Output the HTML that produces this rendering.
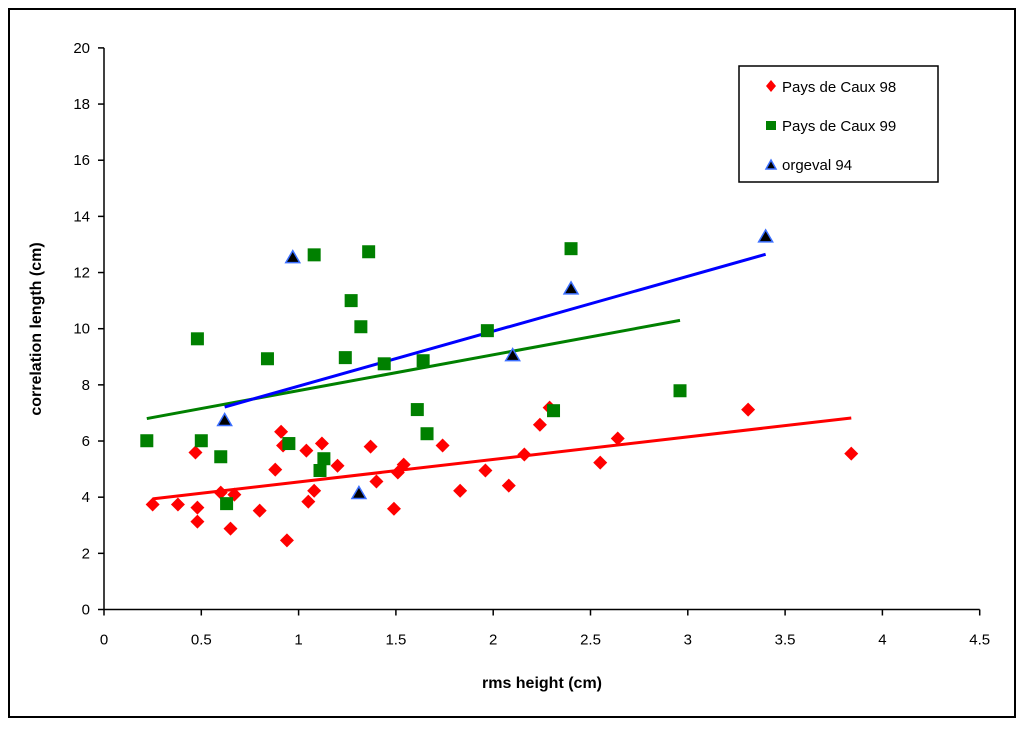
<!DOCTYPE html>
<html><head><meta charset="utf-8"><style>
body{margin:0;background:#fff;}
svg text{font-family:"Liberation Sans",Arial,sans-serif;}
</style></head><body>
<svg id="chart" width="1024" height="726" xmlns="http://www.w3.org/2000/svg">
<rect x="9" y="9" width="1006" height="708" fill="#fff" stroke="#000" stroke-width="2"/>
<g id="axes"></g>
<g id="lines"></g>
<g id="marks"></g>
<text x="542" y="688" text-anchor="middle" font-size="16" font-weight="bold">rms height (cm)</text>
<text transform="translate(41,329) rotate(-90)" text-anchor="middle" font-size="16" font-weight="bold">correlation length (cm)</text>
<g>
<rect x="739" y="66" width="199" height="116" fill="#fff" stroke="#000" stroke-width="1.5"/>
<polygon points="771,80 776,86 771,92 766,86" fill="#f00"/>
<text x="782" y="92" font-size="15">Pays de Caux  98</text>
<rect x="766" y="121" width="10" height="9" fill="#008000"/>
<text x="782" y="131" font-size="15">Pays de Caux  99</text>
<polygon points="771,160 776,169 766,169" fill="#000" stroke="#3b6fff" stroke-width="1.5"/>
<text x="782" y="170" font-size="15">orgeval 94</text>
</g>
</svg>
<script>
const xTicks=[0,0.5,1,1.5,2,2.5,3,3.5,4,4.5];
const yTicks=[0,2,4,6,8,10,12,14,16,18,20];
const caux98X=[0.25,0.38,0.47,0.48,0.48,0.60,0.67,0.65,0.80,0.88,0.91,0.92,0.94,1.04,1.05,1.08,1.12,1.20,1.37,1.40,1.49,1.51,1.54,1.74,1.83,1.96,2.08,2.16,2.24,2.29,2.55,2.64,3.31,3.84];
const caux98Y=[3.74,3.74,5.59,3.63,3.13,4.16,4.09,2.88,3.52,4.98,6.33,5.84,2.46,5.66,3.84,4.23,5.91,5.12,5.80,4.56,3.59,4.88,5.16,5.84,4.23,4.95,4.41,5.52,6.58,7.19,5.23,6.09,7.12,5.55];
const caux99X=[0.22,0.48,0.50,0.60,0.63,0.84,0.95,1.08,1.13,1.11,1.24,1.27,1.32,1.36,1.44,1.61,1.64,1.66,1.97,2.31,2.40,2.96];
const caux99Y=[6.01,9.64,6.01,5.44,3.77,8.93,5.91,12.63,5.37,4.95,8.97,11.0,10.07,12.74,8.75,7.12,8.86,6.26,9.93,7.08,12.85,7.79];
const orgX=[0.62,0.97,1.31,2.10,2.40,3.40];
const orgY=[6.73,12.53,4.13,9.04,11.42,13.27];
const NS="http://www.w3.org/2000/svg";
const X0=104,XS=194.6,Y0=609.5,YS=28.08;
const sx=v=>X0+v*XS, sy=v=>Y0-v*YS;
function mk(tag,attrs,parent){const e=document.createElementNS(NS,tag);for(const k in attrs)e.setAttribute(k,attrs[k]);document.getElementById(parent).appendChild(e);return e;}
let e=mk('line',{x1:sx(0),y1:sy(0),x2:sx(4.5),y2:sy(0),stroke:'#000','stroke-width':1.5},'axes');


e=mk('line',{x1:sx(0),y1:sy(0),x2:sx(0),y2:sy(20),stroke:'#000','stroke-width':1.5},'axes');


xTicks.forEach(t=>{
 let l=mk('line',{x1:sx(t),y1:Y0,x2:sx(t),y2:Y0+6,stroke:'#000','stroke-width':1.5},'axes');
 
 
 let tx=mk('text',{x:sx(t),y:Y0+35,'text-anchor':'middle','font-size':15},'axes');tx.textContent=String(t);
 
 
});
yTicks.forEach(t=>{
 let l=mk('line',{x1:X0-6,y1:sy(t),x2:X0,y2:sy(t),stroke:'#000','stroke-width':1.5},'axes');
 
 
 let tx=mk('text',{x:X0-14,y:sy(t)+5,'text-anchor':'end','font-size':15},'axes');tx.textContent=String(t);
 
 
});
function trend(xs,ys,color,name){
 const n=xs.length;let mx=0,my=0;xs.forEach((v,i)=>{mx+=v;my+=ys[i];});mx/=n;my/=n;
 let num=0,den=0;xs.forEach((v,i)=>{num+=(v-mx)*(ys[i]-my);den+=(v-mx)*(v-mx);});
 const b=num/den,a=my-b*mx;const x1=Math.min(...xs),x2=Math.max(...xs);
 let l=mk('line',{x1:sx(x1),y1:sy(a+b*x1),x2:sx(x2),y2:sy(a+b*x2),stroke:color,'stroke-width':3},'lines');
 
 
}
trend(caux98X,caux98Y,'#f00','trendline-caux98');
trend(caux99X,caux99Y,'#008000','trendline-caux99');
trend(orgX,orgY,'#00f','trendline-orgeval94');
caux98X.forEach((v,i)=>{const x=sx(v),y=sy(caux98Y[i]);
 let p=mk('polygon',{points:`${x},${y-7} ${x+7},${y} ${x},${y+7} ${x-7},${y}`,fill:'#f00'},'marks');
 
 });
caux99X.forEach((v,i)=>{const x=sx(v),y=sy(caux99Y[i]);
 let p=mk('rect',{x:x-6.5,y:y-6.5,width:13,height:13,fill:'#008000'},'marks');
 
 });
orgX.forEach((v,i)=>{const x=sx(v),y=sy(orgY[i]);
 let p=mk('polygon',{points:`${x},${y-7} ${x+7},${y+5} ${x-7},${y+5}`,fill:'#000',stroke:'#3b6fff','stroke-width':1.5},'marks');
 
 });
</script>
</body></html>
